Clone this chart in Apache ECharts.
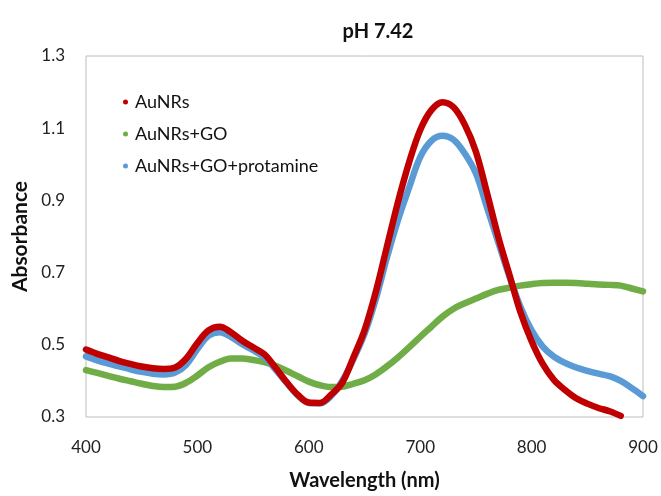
<!DOCTYPE html>
<html>
<head>
<meta charset="utf-8">
<script src="https://cdn.jsdelivr.net/npm/echarts@6/dist/echarts.min.js"></script>
<style>
  html, body { margin: 0; padding: 0; background: #fff; }
  #chart { width: 661px; height: 496px; }
</style>
</head>
<body>
<div id="chart"></div>
<script>
// wavelength (nm), 10 nm steps
const wavelengths = [400, 410, 420, 430, 440, 450, 460, 470, 480, 490,
  500, 510, 520, 530, 540, 550, 560, 570, 580, 590,
  600, 610, 620, 630, 640, 650, 660, 670, 680, 690,
  700, 710, 720, 730, 740, 750, 760, 770, 780, 790,
  800, 810, 820, 830, 840, 850, 860, 870, 880, 890, 900];

const auNRs = [0.487, 0.475, 0.465, 0.455, 0.447, 0.440, 0.435, 0.433, 0.437, 0.462,
  0.505, 0.540, 0.550, 0.535, 0.512, 0.493, 0.474, 0.437, 0.397, 0.362,
  0.340, 0.339, 0.362, 0.395, 0.465, 0.540, 0.645, 0.770, 0.895, 1.005,
  1.095, 1.150, 1.172, 1.158, 1.110, 1.035, 0.920, 0.800, 0.695, 0.590,
  0.510, 0.447, 0.403, 0.375, 0.352, 0.337, 0.325, 0.316, 0.303, null, null];

const auNRsGO = [0.430, 0.422, 0.414, 0.406, 0.399, 0.392, 0.386, 0.383, 0.384, 0.395,
  0.415, 0.438, 0.453, 0.462, 0.462, 0.458, 0.452, 0.442, 0.428, 0.413,
  0.398, 0.388, 0.383, 0.384, 0.392, 0.402, 0.418, 0.440, 0.465, 0.493,
  0.522, 0.550, 0.578, 0.600, 0.615, 0.628, 0.641, 0.652, 0.658, 0.664,
  0.668, 0.671, 0.672, 0.672, 0.671, 0.669, 0.667, 0.666, 0.664, 0.656, 0.648];

const auNRsGOProt = [0.468, 0.457, 0.448, 0.440, 0.432, 0.425, 0.420, 0.418, 0.423, 0.445,
  0.488, 0.525, 0.535, 0.522, 0.502, 0.485, 0.466, 0.432, 0.395, 0.360,
  0.339, 0.338, 0.358, 0.400, 0.460, 0.530, 0.625, 0.740, 0.845, 0.935,
  1.020, 1.065, 1.079, 1.068, 1.030, 0.975, 0.880, 0.785, 0.690, 0.605,
  0.540, 0.495, 0.467, 0.450, 0.437, 0.428, 0.420, 0.413, 0.400, 0.380, 0.358];

const pairs = (ys) => {
  var res = [];
  for (var i = 0; i < wavelengths.length; i++) {
    if (ys[i] != null) res.push([wavelengths[i], ys[i]]);
  }
  return res;
};

const font = "Lato, 'Open Sans', sans-serif";
const mkSeries = (name, ys, color) => ({
  name: name,
  type: "line",
  smooth: 0.35,
  showSymbol: false,
  symbol: "circle",
  data: pairs(ys),
  itemStyle: { color: color },
  lineStyle: { color: color, width: 6.5, cap: "round", join: "round" },
});

const option = {
  animation: false,
  backgroundColor: "#fff",
  title: {
    text: "pH 7.42",
    left: 373,
    top: 17,
    textAlign: "center",
    textStyle: { fontFamily: font, fontSize: 20, fontWeight: "bold", color: "#111" },
  },
  grid: {
    left: 86,
    right: 18,
    top: 56,
    bottom: 78,
    show: true,
    borderColor: "#bcbcbc",
    borderWidth: 1,
  },
  legend: {
    orient: "vertical",
    left: 118,
    top: 88,
    itemGap: 14,
    itemWidth: 5,
    itemHeight: 5,
    icon: "circle",
    data: ["AuNRs", "AuNRs+GO", "AuNRs+GO+protamine"],
    textStyle: { fontFamily: font, fontSize: 18, color: "#111", padding: [0, 0, 0, 2] },
  },
  xAxis: {
    type: "value",
    min: 400,
    max: 900,
    interval: 100,
    name: "Wavelength (nm)",
    nameLocation: "middle",
    nameGap: 54,
    nameTextStyle: { fontFamily: font, fontSize: 20, fontWeight: "bold", color: "#111" },
    axisLine: { show: false },
    axisTick: { show: false },
    splitLine: { show: false },
    axisLabel: { fontFamily: font, fontSize: 17, color: "#222", margin: 22 },
  },
  yAxis: {
    type: "value",
    min: 0.3,
    max: 1.3,
    interval: 0.2,
    name: "Absorbance",
    nameLocation: "middle",
    nameGap: 53,
    nameTextStyle: { fontFamily: font, fontSize: 21, fontWeight: "bold", color: "#111" },
    axisLine: { show: false },
    axisTick: { show: false },
    splitLine: { show: false },
    axisLabel: {
      fontFamily: font,
      fontSize: 17,
      color: "#222",
      margin: 21,
      formatter: (v) => v.toFixed(1),
    },
  },
  series: [
    mkSeries("AuNRs+GO", auNRsGO, "#70ad47"),
    mkSeries("AuNRs+GO+protamine", auNRsGOProt, "#5b9bd5"),
    mkSeries("AuNRs", auNRs, "#c00000"),
  ],
};

var myChart = echarts.init(document.getElementById("chart"));
option && myChart.setOption(option);
</script>
</body>
</html>
